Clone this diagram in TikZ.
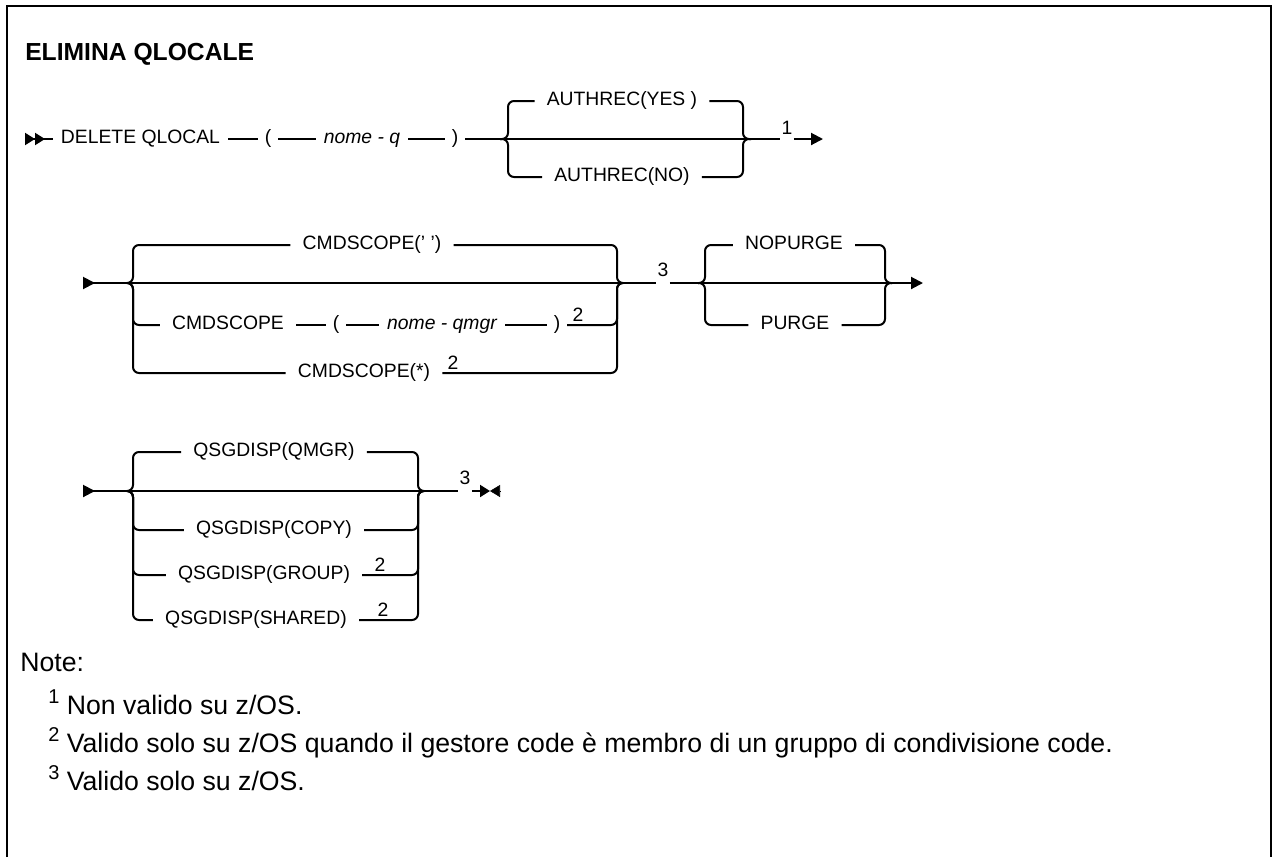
\documentclass[tikz,border=0pt]{standalone}
\usepackage{fontspec}
\setmainfont{Liberation Sans}
\usetikzlibrary{arrows.meta,positioning}
\newcommand{\supnum}[1]{\raisebox{0.42em}{\fontsize{15}{15}\selectfont#1}}

\begin{document}
\begin{tikzpicture}[x=0.75pt, y=-0.75pt,
    kw/.style={font=\fontsize{14.5}{17}\selectfont, inner xsep=6pt, inner ysep=2pt,
               text height=0.72em, text depth=0pt},
    opt/.style={kw, inner xsep=9pt},
    var/.style={kw, font=\fontsize{14.5}{17}\selectfont\itshape},
    paren/.style={kw, inner xsep=5pt},
    sup/.style={font=\fontsize{14.5}{17}\selectfont, inner sep=1pt},
    title/.style={font=\fontsize{18.5}{22}\selectfont\bfseries, anchor=base west, inner sep=0pt},
    note/.style={font=\fontsize{20}{24}\selectfont, anchor=base west, inner sep=0pt},
    rail/.style={line width=1.5pt, rounded corners=4.5pt},
    frame/.style={line width=2pt},
    startdbl/.style={{Triangle[reversed,length=7.5pt,width=9pt]Triangle[reversed,length=7.5pt,width=9pt]}-},
    startone/.style={{Triangle[reversed,length=9pt,width=9pt]}-},
    endarrow/.style={-{Triangle[length=9pt,width=9pt]}},
    endsmall/.style={-{Triangle[length=7.5pt,width=9pt]}}
]
\useasboundingbox (0,0) rectangle (1273,857);
\draw[frame] (7,857) -- (7,6) -- (1271,6) -- (1271,857);

\node[title] (ttl) at (25,60.5) {ELIMINA QLOCALE};

% row 1: DELETE QLOCAL
\coordinate (s1) at (25,139);
\node[kw] (delete) at (140.5,139) {DELETE QLOCAL};
\node[paren] (lp1) at (268,139) {(};
\node[var] (nomeq) at (362,139) {nome - q};
\node[paren] (rp1) at (455,139) {)};
\coordinate (b1l) at (500,139);
\coordinate (b1r) at (751,139);
\node[opt] (yes) at (622,101) {AUTHREC(YES )};
\node[opt] (no) at (622,177) {AUTHREC(NO)};
\node[sup] (n1) at (787,128) {1};
\coordinate (e1) at (823,139);

\draw[rail, startdbl] (s1) -- (delete);
\draw[rail] (delete) -- (lp1);
\draw[rail] (lp1) -- (nomeq);
\draw[rail] (nomeq) -- (rp1);
\draw[rail] (rp1) -- (rp1 -| n1.west);
\draw[rail, endarrow] (rp1 -| n1.east) -- (e1);
\draw[rail] (b1l) -- ++(8,0) |- (yes.west);
\draw[rail] (b1r) -- ++(-8,0) |- (yes.east);
\draw[rail] (b1l) -- ++(8,0) |- (no.west);
\draw[rail] (b1r) -- ++(-8,0) |- (no.east);

% row 2: CMDSCOPE, PURGE
\coordinate (s2) at (83,283);
\coordinate (b2l) at (127,283);
\coordinate (b2r) at (623,283);
\node[opt] (cmdblank) at (372,245) {CMDSCOPE(' ')};
\node[opt] (cmdq) at (228,325) {CMDSCOPE};
\node[paren] (lp2) at (336,325) {(};
\node[var] (nomeqm) at (442,325) {nome - qmgr};
\node[paren] (rp2) at (557,325) {)};
\node[sup] (n2a) at (578,315) {2};
\node[opt] (cmdstar) at (364,373) {CMDSCOPE(*)};
\node[sup] (n2b) at (453,363) {2};
\node[sup] (n3a) at (663,270) {3};
\coordinate (b3l) at (698,283);
\coordinate (b3r) at (892,283);
\node[opt] (nopurge) at (794,245) {NOPURGE};
\node[opt] (purge) at (795,325) {PURGE};
\coordinate (e2) at (923,283);

\draw[rail, startone] (s2) -- (s2 -| n3a.west);
\draw[rail, endarrow] (s2 -| n3a.east) -- (e2);
\draw[rail] (b2l) -- ++(6,0) |- (cmdblank.west);
\draw[rail] (b2r) -- ++(-6,0) |- (cmdblank.east);
\draw[rail] (b2l) -- ++(6,0) |- (cmdq.west);
\draw[rail] (cmdq) -- (lp2);
\draw[rail] (lp2) -- (nomeqm);
\draw[rail] (nomeqm) -- (rp2);
\draw[rail] (b2r) -- ++(-6,0) |- (rp2.east);
\draw[rail] (b2l) -- ++(6,0) |- (cmdstar.west);
\draw[rail] (b2r) -- ++(-6,0) |- (cmdstar.east);
\draw[rail] (b3l) -- ++(7,0) |- (nopurge.west);
\draw[rail] (b3r) -- ++(-7,0) |- (nopurge.east);
\draw[rail] (b3l) -- ++(7,0) |- (purge.west);
\draw[rail] (b3r) -- ++(-7,0) |- (purge.east);

% row 3: QSGDISP
\coordinate (s3) at (83,491);
\coordinate (b4l) at (127,491);
\coordinate (b4r) at (424,491);
\node[opt] (qmgr) at (274,452) {QSGDISP(QMGR)};
\node[opt] (copy) at (274,530) {QSGDISP(COPY)};
\node[opt] (group) at (264,575) {QSGDISP(GROUP)};
\node[sup] (n2c) at (380,565) {2};
\node[opt] (shared) at (256,620) {QSGDISP(SHARED)};
\node[sup] (n2d) at (383,610) {2};
\node[sup] (n3b) at (465,478) {3};
\coordinate (e3) at (490,491);
\coordinate (e3r) at (500,491);

\draw[rail, startone] (s3) -- (s3 -| n3b.west);
\draw[rail, endsmall] (s3 -| n3b.east) -- (e3);
\draw[endsmall] (e3r) -- (e3);
\foreach \opt in {qmgr, copy, group, shared}{
  \draw[rail] (b4l) -- ++(6,0) |- (\opt.west);
  \draw[rail] (b4r) -- ++(-6,0) |- (\opt.east);
}

% notes
\node[note] (notes) at (20,671.5) {Note:};
\node[note] (fn1) at (48,714.5) {\supnum{1} Non valido su z/OS.};
\node[note] (fn2) at (48,752.5) {\supnum{2} Valido solo su z/OS quando il gestore code è membro di un gruppo di condivisione code.};
\node[note] (fn3) at (48,790.5) {\supnum{3} Valido solo su z/OS.};
\end{tikzpicture}
\end{document}
